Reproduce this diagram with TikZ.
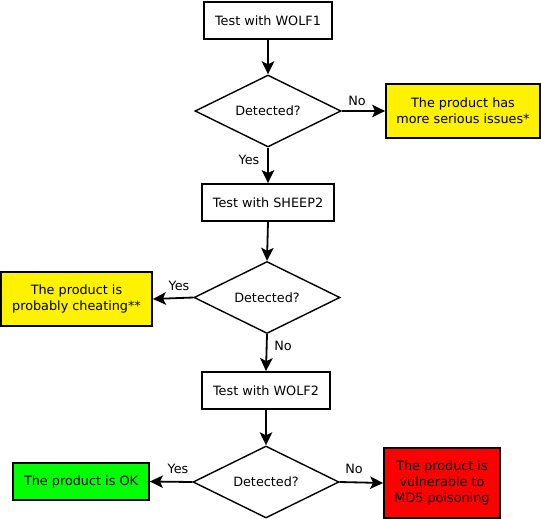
\documentclass[tikz,border=0pt]{standalone}
\usepackage{fontspec}
\setmainfont{DejaVu Sans}
\usetikzlibrary{shapes.geometric,arrows.meta}
\begin{document}
\begin{tikzpicture}[x=1pt,y=-1pt,
  every node/.style={font=\fontsize{12.8}{16}\selectfont},
  stepbox/.style={draw=black,line width=1.8pt,rectangle,inner sep=0pt,align=center},
  decision/.style={draw=black,line width=1.4pt,diamond,aspect=2,inner sep=0pt,minimum width=146pt,minimum height=72pt},
  flow/.style={line width=1.8pt,-{Stealth[length=13pt,width=12.5pt,inset=3pt]}},
  lbl/.style={inner sep=0pt}]
\useasboundingbox (0,0) rectangle (541,519);
\node[stepbox,minimum width=128pt,minimum height=37pt] (t1) at (268,20.5) {Test with WOLF1};
\node[decision] (d1) at (268,111) {Detected?};
\node[stepbox,fill=yellow,minimum width=154pt,minimum height=54pt] (r1) at (463,111) {The product has\\more serious issues*};
\node[stepbox,minimum width=132pt,minimum height=37pt] (t2) at (268,202.5) {Test with SHEEP2};
\node[decision] (d2) at (267,297.5) {Detected?};
\node[stepbox,fill=yellow,minimum width=151pt,minimum height=54pt] (r2) at (76.5,299) {The product is\\probably cheating**};
\node[stepbox,minimum width=128pt,minimum height=37pt] (t3) at (266,390.5) {Test with WOLF2};
\node[decision] (d3) at (266,482) {Detected?};
\node[stepbox,fill=green,minimum width=136pt,minimum height=37pt] (r3) at (81,481.5) {The product is OK};
\node[stepbox,fill=red,minimum width=116pt,minimum height=70pt] (r4) at (442,483) {The product is\\vulnerable to\\MD5 poisoning};
\draw[flow] (t1) -- (d1);
\draw[flow] (d1.east) -- (r1.west);
\draw[flow] (d1.south) -- (t2.north);
\draw[flow] (t2.south) -- (d2.north);
\draw[flow] (d2.west) -- (r2.east);
\draw[flow] (d2.south) -- (t3.north);
\draw[flow] (t3.south) -- (d3.north);
\draw[flow] (d3.west) -- (r3.east);
\draw[flow] (d3.east) -- (r4.west);
\node[lbl] (l1) at (357,101) {No};
\node[lbl] (l2) at (249,160) {Yes};
\node[lbl] (l3) at (179,286) {Yes};
\node[lbl] (l4) at (283,346) {No};
\node[lbl] (l5) at (178,469) {Yes};
\node[lbl] (l6) at (354,469) {No};
\end{tikzpicture}
\end{document}
